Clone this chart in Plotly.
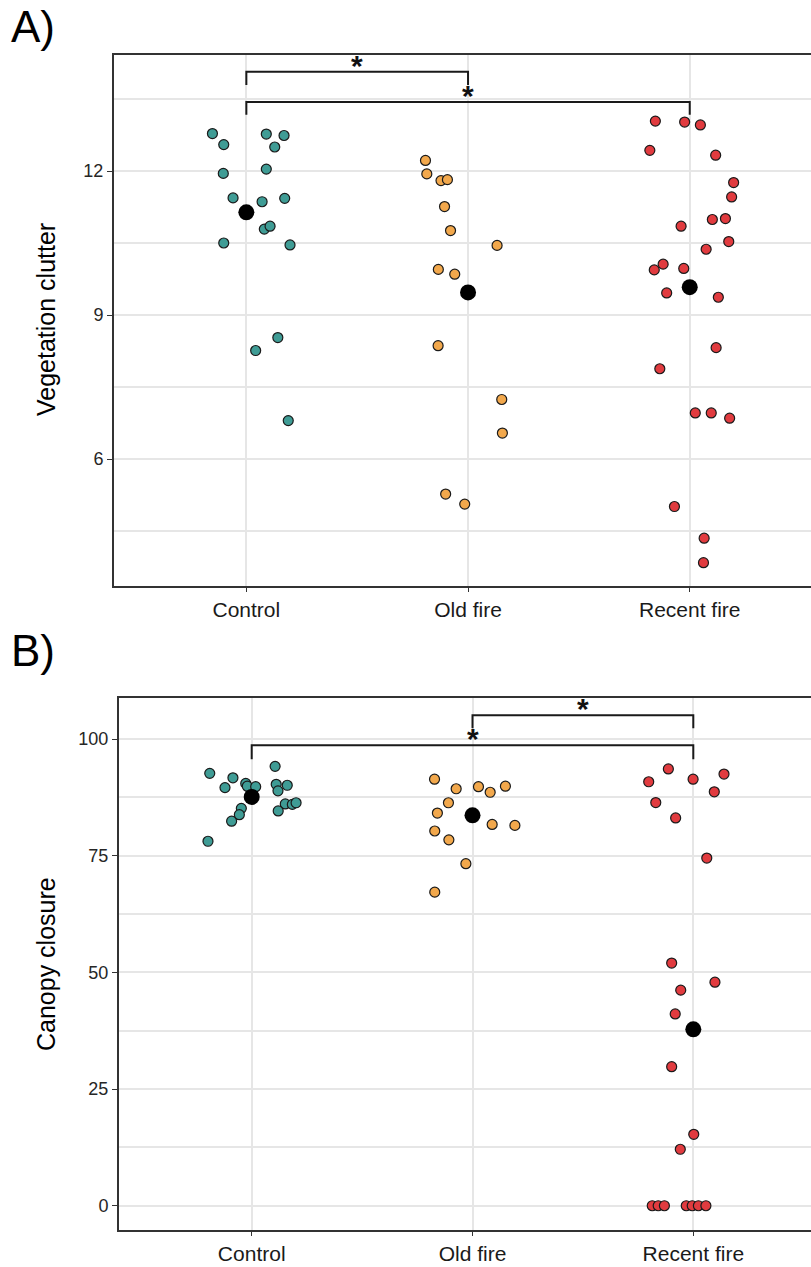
import plotly.graph_objects as go

# ---------------- data ----------------
categories = ["Control", "Old fire", "Recent fire"]

# Panel A: Vegetation clutter (values and horizontal jitter, in category units)
clutter_control = [12.78, 12.55, 12.77, 12.74, 12.50, 11.95, 12.04, 11.44, 11.36, 11.43,
                   10.79, 10.85, 10.50, 10.46, 8.53, 8.26, 6.80]
clutter_control_jit = [-0.153, -0.102, 0.090, 0.170, 0.128, -0.104, 0.090, -0.060, 0.071, 0.173,
                       0.081, 0.107, -0.102, 0.197, 0.142, 0.042, 0.189]
clutter_old = [12.22, 11.94, 11.80, 11.82, 11.26, 10.76, 10.45, 9.95, 9.85, 8.36,
               7.24, 6.54, 5.27, 5.06]
clutter_old_jit = [-0.192, -0.186, -0.122, -0.093, -0.106, -0.079, 0.131, -0.134, -0.060, -0.135,
                   0.152, 0.155, -0.101, -0.015]
clutter_recent = [13.04, 13.02, 12.96, 12.43, 12.33, 11.76, 11.46, 10.85, 10.99, 11.01,
                  10.53, 10.37, 10.06, 9.94, 9.97, 9.46, 9.37, 8.32, 7.88, 6.96,
                  6.96, 6.85, 5.01, 4.35, 3.84]
clutter_recent_jit = [-0.155, -0.023, 0.048, -0.180, 0.117, 0.198, 0.189, -0.039, 0.102, 0.161,
                      0.176, 0.074, -0.120, -0.160, -0.027, -0.104, 0.129, 0.119, -0.135, 0.025,
                      0.097, 0.180, -0.069, 0.065, 0.062]
clutter_means = [11.14, 9.47, 9.58]

# Panel B: Canopy closure
canopy_control = [92.65, 91.7, 89.6, 90.5, 89.9, 89.8, 94.15, 90.3, 90.1, 88.9,
                  85.15, 83.8, 82.4, 86.1, 86.0, 86.35, 84.6, 78.1]
canopy_control_jit = [-0.190, -0.085, -0.121, -0.027, -0.020, 0.018, 0.106, 0.111, 0.161, 0.119,
                      -0.047, -0.056, -0.091, 0.152, 0.184, 0.201, 0.120, -0.198]
canopy_old = [91.4, 89.35, 89.8, 88.6, 89.9, 86.35, 84.15, 81.7, 81.5, 80.3, 78.4, 73.3, 67.2]
canopy_old_jit = [-0.172, -0.074, 0.027, 0.080, 0.149, -0.109, -0.159, 0.089, 0.192, -0.171,
                  -0.107, -0.030, -0.171]
canopy_recent = [93.6, 90.85, 91.4, 92.5, 88.7, 86.4, 83.1, 74.5, 52.0, 47.9,
                 46.2, 41.1, 29.8, 15.3, 12.1, 0, 0, 0, 0, 0, 0, 0]
canopy_recent_jit = [-0.113, -0.202, -0.001, 0.139, 0.095, -0.170, -0.080, 0.061, -0.098, 0.098,
                     -0.057, -0.082, -0.098, 0.002, -0.059, -0.186, -0.159, -0.131, -0.032, -0.005,
                     0.023, 0.057]
canopy_means = [87.6, 83.65, 37.8]

# significance comparisons (group index pairs)
clutter_pairs = [(0, 1), (0, 2)]
canopy_pairs = [(1, 2), (0, 2)]
sig_label = "*"

# ---------------- styling ----------------
colors = ["#3F9C95", "#F2A84C", "#E13B3F"]
FONT = "Liberation Sans, Arial, Helvetica, sans-serif"
W, H = 811, 1267
GRID = "#E6E6E6"
AXC = "#333333"

fig = go.Figure()

groups_a = [(clutter_control, clutter_control_jit), (clutter_old, clutter_old_jit),
            (clutter_recent, clutter_recent_jit)]
groups_b = [(canopy_control, canopy_control_jit), (canopy_old, canopy_old_jit),
            (canopy_recent, canopy_recent_jit)]

for (xa, ya), groups, means in [(("x", "y"), groups_a, clutter_means),
                                (("x2", "y2"), groups_b, canopy_means)]:
    for i, (vals, jit) in enumerate(groups):
        fig.add_trace(go.Scatter(
            x=[i + j for j in jit], y=vals, mode="markers",
            marker=dict(size=10, color=colors[i], line=dict(color="#1a1a1a", width=1.2)),
            xaxis=xa, yaxis=ya, hoverinfo="skip"))
    fig.add_trace(go.Scatter(
        x=list(range(len(categories))), y=means, mode="markers",
        marker=dict(size=16, color="black"), xaxis=xa, yaxis=ya, hoverinfo="skip"))


def bracket(xref, yref, pair, ytop, ybot, star_y_shift):
    a, b = pair
    fig.add_shape(type="path",
                  path=f"M {a},{ybot} L {a},{ytop} L {b},{ytop} L {b},{ybot}",
                  xref=xref, yref=yref, line=dict(color="#1a1a1a", width=2))
    fig.add_annotation(x=(a + b) / 2, y=ytop, xref=xref, yref=yref, text=sig_label,
                       showarrow=False, yanchor="bottom", yshift=star_y_shift,
                       font=dict(family=FONT, size=30, color="#111", weight="bold"))


bracket("x", "y", clutter_pairs[0], 14.07, 13.79, -12)
bracket("x", "y", clutter_pairs[1], 13.44, 13.17, -12)
bracket("x2", "y2", canopy_pairs[0], 105.1, 102.3, -12)
bracket("x2", "y2", canopy_pairs[1], 98.7, 95.7, -12)

# panel letters
fig.add_annotation(text="A)", x=9 / W, y=1 - 0 / H, xref="paper", yref="paper",
                   xanchor="left", yanchor="top", showarrow=False,
                   font=dict(family=FONT, size=44, color="black"))
fig.add_annotation(text="B)", x=9 / W, y=1 - 624 / H, xref="paper", yref="paper",
                   xanchor="left", yanchor="top", showarrow=False,
                   font=dict(family=FONT, size=44, color="black"))

# y titles
fig.add_annotation(text="Vegetation clutter", x=46 / W, y=1 - 320 / H, xref="paper", yref="paper",
                   xanchor="center", yanchor="middle", textangle=-90, showarrow=False,
                   font=dict(family=FONT, size=25, color="black"))
fig.add_annotation(text="Canopy closure", x=46 / W, y=1 - 964 / H, xref="paper", yref="paper",
                   xanchor="center", yanchor="middle", textangle=-90, showarrow=False,
                   font=dict(family=FONT, size=25, color="black"))

xcommon = dict(tickvals=[0, 1, 2], ticktext=categories, showgrid=True, gridcolor=GRID, gridwidth=1.5,
               zeroline=False, showline=True, linecolor=AXC, linewidth=2, mirror=True,
               ticks="outside", ticklen=4, tickcolor=AXC, tickwidth=1,
               tickfont=dict(family=FONT, size=21, color="#1a1a1a"))
ycommon = dict(showgrid=True, gridcolor=GRID, gridwidth=1.5, zeroline=False,
               showline=True, linecolor=AXC, linewidth=2, mirror=False,
               ticks="outside", ticklen=5, tickcolor=AXC, tickwidth=1,
               tickfont=dict(family=FONT, size=18, color="#262626"))

fig.update_layout(
    width=W, height=H, margin=dict(l=0, r=0, t=0, b=0),
    paper_bgcolor="white", plot_bgcolor="white", showlegend=False,
    xaxis=dict(domain=[114 / W, 1.0], range=[-0.597, 2.547], anchor="y", **xcommon),
    yaxis=dict(domain=[1 - 586 / H, 1 - 55 / H], range=[3.354, 14.417], anchor="x",
               tickvals=[6, 9, 12], minor=dict(tickvals=[4.5, 7.5, 10.5, 13.5], showgrid=True,
                                                 gridcolor=GRID, gridwidth=1.5, ticks=""),
               **ycommon),
    xaxis2=dict(domain=[119 / W, 1.0], range=[-0.601, 2.533], anchor="y2", **xcommon),
    yaxis2=dict(domain=[1 - 1230 / H, 1 - 698 / H], range=[-5.2, 108.8], anchor="x2",
                tickvals=[0, 25, 50, 75, 100],
                minor=dict(tickvals=[12.5, 37.5, 62.5, 87.5], showgrid=True,
                           gridcolor=GRID, gridwidth=1.5, ticks=""),
                **ycommon),
)

fig.write_html("out.html")
